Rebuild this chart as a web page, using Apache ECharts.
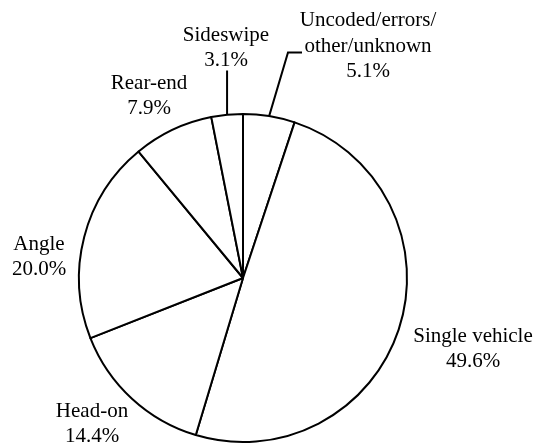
<!DOCTYPE html>
<html>
<head>
<meta charset="utf-8">
<script src="https://cdn.jsdelivr.net/npm/echarts@6/dist/echarts.min.js"></script>
<style>
html,body{margin:0;padding:0;background:#fff;}
#chart{width:538px;height:446px;}
</style>
</head>
<body>
<div id="chart"></div>
<script>
// Data
const categories = ['Uncoded/errors/\nother/unknown', 'Single vehicle', 'Head-on', 'Angle', 'Rear-end', 'Sideswipe'];
const values = [5.1, 49.6, 14.4, 20.0, 7.9, 3.1];

// Layout (not data)
const CX = 243, CY = 278, R = 164;
const labelOffsets = [[125, -232], [230, 71], [-151, 146], [-204, -21], [-94, -182], [-17, -230]];
const withLeader = [true, false, false, false, false, true];

const total = values.reduce((a, b) => a + b, 0);
function midAngle(i) {
  let acc = 0;
  for (let k = 0; k < i; k++) acc += values[k];
  return ((acc + values[i] / 2) / total) * 2 * Math.PI; // clockwise from top
}

const chart = echarts.init(document.getElementById('chart'), null, {renderer: 'canvas'});
chart.setOption({
  animation: false,
  backgroundColor: '#fff',
  series: [{
    type: 'pie',
    center: [CX, CY],
    radius: [0, R],
    startAngle: 90,
    clockwise: true,
    avoidLabelOverlap: false,
    emphasis: {disabled: true},
    itemStyle: {color: '#fff', borderColor: '#000', borderWidth: 2},
    label: {
      show: true,
      position: 'outside',
      fontFamily: 'Liberation Serif',
      fontSize: 21,
      lineHeight: 25.5,
      color: '#000',
      align: 'center',
      formatter: p => p.name + '\n' + p.value.toFixed(1) + '%'
    },
    labelLine: {show: false, lineStyle: {color: '#000', width: 2}},
    labelLayout: function (params) {
      const i = params.dataIndex;
      const x = CX + labelOffsets[i][0];
      const y = CY + labelOffsets[i][1];
      const res = {x: x, y: y, align: 'center', verticalAlign: 'middle'};
      if (withLeader[i]) {
        const a = midAngle(i);
        const sx = CX + R * Math.sin(a), sy = CY - R * Math.cos(a);
        if (i === 5) {
          res.labelLinePoints = [[sx, sy], [sx, y + 22.5], [sx, y + 22.5]];
        } else {
          res.labelLinePoints = [[sx, sy], [x - 80, y + 6.5], [x - 66, y + 6.5]];
        }
      }
      return res;
    },
    data: categories.map((c, i) => ({
      name: c,
      value: values[i],
      labelLine: {show: withLeader[i]}
    }))
  }]
});
</script>
</body>
</html>
